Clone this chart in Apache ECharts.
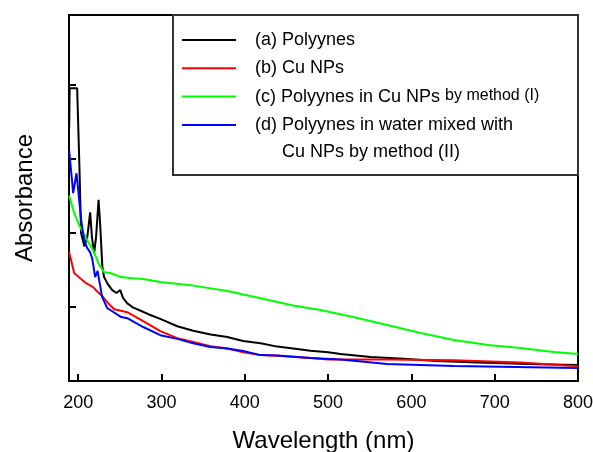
<!DOCTYPE html>
<html>
<head>
<meta charset="utf-8">
<script src="https://cdn.jsdelivr.net/npm/echarts@6/dist/echarts.min.js"></script>
<style>
  html, body { margin: 0; padding: 0; background: #fff; }
  #main { width: 593px; height: 452px; }
</style>
</head>
<body>
<div id="main"></div>
<script>
// series names (legend order)
var names = [
  '(a) Polyynes',
  '(b) Cu NPs',
  '(c) Polyynes in Cu NPs by method (I)',
  '(d) Polyynes in water mixed with Cu NPs by method (II)'
];
var colors = ['#000000', '#ff0000', '#00ff00', '#0000ff'];

// [wavelength nm, absorbance a.u.]
var polyynes = [
  [189.2, 3.43], [189.8, 3.96], [198.8, 3.96], [201.5, 2.9], [203.5, 2.0],
  [207.5, 1.82], [211, 1.95], [214.4, 2.28], [216.5, 1.95], [219.2, 1.73],
  [221.5, 1.95], [224.5, 2.45], [226.5, 2.1], [229, 1.55], [231, 1.41],
  [235, 1.32], [240.9, 1.23], [246, 1.19], [250.5, 1.23], [254, 1.12],
  [259, 1.05], [265, 1.0], [275, 0.95], [285, 0.9], [298.6, 0.84],
  [319, 0.74], [338, 0.68], [359, 0.63], [379, 0.595], [398, 0.54],
  [419, 0.51], [439, 0.465], [458, 0.44], [479, 0.41], [500, 0.39],
  [515, 0.365], [551, 0.325], [591, 0.3], [630, 0.27], [680, 0.25],
  [740, 0.23], [800, 0.216]
];
var cuNPs = [
  [189.2, 1.74], [195.2, 1.46], [202.4, 1.39], [210, 1.32], [218, 1.27],
  [222, 1.22], [230, 1.135], [236, 1.05], [243.3, 0.97], [258.9, 0.93],
  [278.1, 0.81], [298.6, 0.675], [319, 0.58], [338.2, 0.527], [358.7, 0.47],
  [379.1, 0.44], [398.3, 0.39], [418.8, 0.35], [439, 0.34], [478.8, 0.31],
  [500, 0.29], [571, 0.29], [651, 0.28], [731, 0.25], [800, 0.2]
];
var methodI = [
  [189.2, 2.51], [195.2, 2.27], [202.4, 2.08], [210.8, 1.905], [218, 1.77],
  [225.2, 1.57], [231.3, 1.47], [238.5, 1.46], [251.7, 1.405], [264.9, 1.39],
  [278.1, 1.38], [298.6, 1.34], [338, 1.29], [379, 1.216], [419, 1.12],
  [458, 1.02], [491, 0.96], [530, 0.865], [571, 0.757], [611, 0.649],
  [651, 0.554], [692, 0.486], [731, 0.446], [771, 0.392], [800, 0.365]
];
var methodII = [
  [189.2, 3.12], [194, 2.54], [198, 2.81], [203.6, 2.18], [207.2, 1.905],
  [210.8, 1.8], [214.4, 1.74], [216.8, 1.66], [220.4, 1.405], [223.4, 1.49],
  [225.2, 1.365], [228.8, 1.135], [234.9, 0.986], [238.5, 0.96], [251.7, 0.865],
  [258.9, 0.85], [278.1, 0.73], [298.6, 0.62], [319, 0.57], [338, 0.51],
  [358.7, 0.46], [379, 0.44], [398, 0.405], [419, 0.35], [439, 0.345],
  [479, 0.31], [515, 0.29], [571, 0.23], [651, 0.203], [800, 0.176]
];
var seriesData = [polyynes, cuNPs, methodI, methodII];

var font = "'Liberation Sans', Arial, sans-serif";
var chart = echarts.init(document.getElementById('main'), null, { renderer: 'canvas' });

var option = {
  backgroundColor: '#ffffff',
  animation: false,
  grid: {
    left: 69, right: 15, top: 15, bottom: 71,
    outerBoundsMode: 'none',
    containLabel: false,
    show: true, borderColor: '#000', borderWidth: 2
  },
  xAxis: {
    type: 'value',
    min: 189,
    max: 800,
    splitNumber: 6,
    name: 'Wavelength (nm)',
    nameLocation: 'middle',
    nameGap: 48,
    nameTextStyle: { fontFamily: font, fontSize: 24, color: '#000' },
    axisLine: { lineStyle: { color: '#000', width: 2 } },
    axisTick: { inside: true, length: 7, lineStyle: { color: '#000', width: 2 } },
    axisLabel: { showMinLabel: false, fontFamily: font, fontSize: 18, color: '#000', margin: 13 },
    splitLine: { show: false }
  },
  yAxis: {
    type: 'value',
    min: 0,
    max: 4.95,
    interval: 1,
    name: 'Absorbance',
    nameLocation: 'middle',
    nameGap: 32,
    nameTextStyle: { fontFamily: font, fontSize: 24, color: '#000' },
    axisLine: { show: true, lineStyle: { color: '#000', width: 2 } },
    axisTick: { show: true, inside: true, length: 7, lineStyle: { color: '#000', width: 2 } },
    axisLabel: { show: false },
    splitLine: { show: false }
  },
  legend: {
    orient: 'vertical',
    left: 182,
    top: 30,
    padding: 0,
    icon: 'rect',
    itemWidth: 54,
    itemHeight: 2,
    itemGap: 8.3,
    data: names,
    textStyle: {
      fontFamily: font, fontSize: 18, lineHeight: 20, color: '#000', padding: [0, 0, 0, 14],
      rich: { s: { fontFamily: font, fontSize: 16, lineHeight: 20, color: '#000', padding: [0, 0, 2, 0] } }
    },
    formatter: function (name) {
      if (name === names[2]) return '(c) Polyynes in Cu NPs {s|by method (I)}';
      if (name === names[3]) return '(d) Polyynes in water mixed with';
      return name;
    }
  },
  graphic: [
    {
      type: 'rect',
      shape: { x: 173, y: 15, width: 405, height: 160 },
      style: { fill: 'none', stroke: '#333', lineWidth: 2 },
      z: 10
    },
    {
      type: 'text',
      x: 282,
      y: 152,
      style: { text: 'Cu NPs by method (II)', font: '18px ' + font, fill: '#000', verticalAlign: 'middle' },
      z: 10
    }
  ],
  series: names.map(function (n, i) {
    return {
      name: n,
      type: 'line',
      data: seriesData[i],
      symbol: 'none',
      showSymbol: false,
      color: colors[i],
      lineStyle: { color: colors[i], width: 2 }
    };
  })
};
chart.setOption(option);
</script>
</body>
</html>
